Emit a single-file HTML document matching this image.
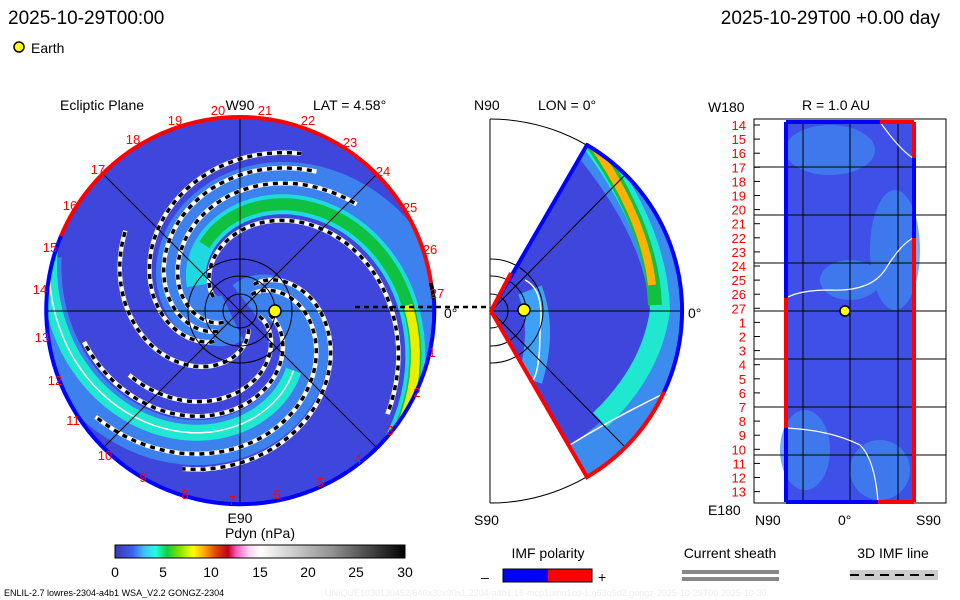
<!DOCTYPE html>
<html><head><meta charset="utf-8"><style>
body{margin:0;background:#fff;width:960px;height:600px;overflow:hidden;font-family:"Liberation Sans",sans-serif}
svg{display:block}
text{font-family:"Liberation Sans",sans-serif}
</style></head><body>
<svg id="s" width="960" height="600" viewBox="0 0 960 600" xmlns="http://www.w3.org/2000/svg">
<defs>
<linearGradient id="cb" x1="0" x2="1" y1="0" y2="0">
<stop offset="0" stop-color="#3838b0"/><stop offset="0.06" stop-color="#3c60f0"/><stop offset="0.1" stop-color="#40c0ff"/><stop offset="0.14" stop-color="#20ffe0"/><stop offset="0.18" stop-color="#10d040"/><stop offset="0.22" stop-color="#80e000"/><stop offset="0.27" stop-color="#ffff00"/><stop offset="0.31" stop-color="#ffa000"/><stop offset="0.35" stop-color="#e04000"/><stop offset="0.39" stop-color="#c00020"/><stop offset="0.42" stop-color="#ff60c0"/><stop offset="0.46" stop-color="#ffd0f0"/><stop offset="0.5" stop-color="#ffffff"/><stop offset="0.75" stop-color="#909090"/><stop offset="1" stop-color="#000"/>
</linearGradient>
<clipPath id="disk"><circle cx="240" cy="311" r="194"/></clipPath>
<clipPath id="wedge"><path d="M491,311 L587,145 A192,192 0 0 1 587,477 Z"/></clipPath>
<clipPath id="rhalf"><rect x="490" y="100" width="200" height="420"/></clipPath>
</defs>
<text x="8" y="24" font-size="19">2025-10-29T00:00</text>
<text x="940" y="24" font-size="19" text-anchor="end">2025-10-29T00 +0.00 day</text>
<circle cx="19" cy="47" r="5" fill="#ff0" stroke="#000" stroke-width="1.5"/>
<text x="31" y="53" font-size="14">Earth</text>

<text x="60" y="110" font-size="14">Ecliptic Plane</text>
<text x="240" y="110" font-size="14" text-anchor="middle">W90</text>
<text x="313" y="110" font-size="14">LAT = 4.58°</text>
<text x="474" y="110" font-size="14">N90</text>
<text x="538" y="110" font-size="14">LON = 0°</text>
<text x="708" y="112" font-size="14">W180</text>
<text x="802" y="110" font-size="14">R = 1.0 AU</text>

<circle cx="240" cy="311" r="194" fill="#3f46dc"/>
<g id="spirals" clip-path="url(#disk)"></g>
<g stroke="#000" stroke-width="1" fill="none">
<line x1="46" y1="311" x2="434" y2="311"/><line x1="240" y1="117" x2="240" y2="505"/>
<line x1="103" y1="174" x2="377" y2="448"/><line x1="103" y1="448" x2="377" y2="174"/>
<circle cx="240" cy="311" r="17"/><circle cx="240" cy="311" r="35"/><circle cx="240" cy="311" r="52"/>
</g>
<path d="M240,117 A194,194 0 0 0 61,236" stroke="#f00" stroke-width="4" fill="none"/>
<path d="M240,117 A194,194 0 0 1 431,283" stroke="#f00" stroke-width="4" fill="none"/>
<path d="M431,283 A194,194 0 0 1 434,300" stroke="#000" stroke-width="4" fill="none"/>
<path d="M434,300 A194,194 0 1 1 61,236" stroke="#00f" stroke-width="4" fill="none"/>
<circle cx="275" cy="311" r="6" fill="#ff0" stroke="#000" stroke-width="1.5"/>
<line x1="355" y1="307" x2="490" y2="307" stroke="#000" stroke-width="2.5" stroke-dasharray="5,4"/>
<text x="444" y="318" font-size="14">0°</text>
<text x="240" y="523" font-size="14" text-anchor="middle">E90</text>
<g fill="#f00" font-size="13" text-anchor="middle" id="lnum"></g>

<path d="M490,119 A192,192 0 0 1 490,503" stroke="#000" fill="none"/>
<line x1="490" y1="119" x2="490" y2="503" stroke="#000"/>
<g clip-path="url(#wedge)">
<path d="M491,311 L587,145 A192,192 0 0 1 587,477 Z" fill="#3f46dc"/>
<path d="M590,140 Q665,230 670,310 Q665,390 610,440 Q580,465 560,475" stroke="#3c8cf0" stroke-width="40" fill="none"/>
<path d="M590,140 Q658,230 660,310 Q652,370 600,420" stroke="#20e8d0" stroke-width="20" fill="none"/>
<path d="M592,143 Q652,228 655,305" stroke="#10c040" stroke-width="14" fill="none"/>
<path d="M594,146 Q645,220 652,285" stroke="#ffb000" stroke-width="8" fill="none"/>
<path d="M530,290 Q545,330 530,380" stroke="#40c8ff" stroke-width="25" fill="none" opacity="0.7"/>
<path d="M525,280 Q545,290 540,330 Q540,370 533,380" stroke="#fff" stroke-width="1.5" fill="none"/>
<path d="M570,445 Q610,420 665,393" stroke="#fff" stroke-width="1.5" fill="none"/>
</g>
<g stroke="#000" fill="none" clip-path="url(#rhalf)">
<line x1="491" y1="311" x2="682" y2="311"/><line x1="491" y1="311" x2="625" y2="175"/><line x1="491" y1="311" x2="625" y2="447"/>
<circle cx="491" cy="311" r="17"/><circle cx="491" cy="311" r="35"/><circle cx="491" cy="311" r="52"/>
</g>
<path d="M491,311 L587,145 A192,192 0 0 1 664,392" stroke="#00f" stroke-width="4" fill="none" stroke-linejoin="round"/>
<path d="M664,392 A192,192 0 0 1 587,477 L491,311 L511,273" stroke="#f00" stroke-width="4" fill="none"/>
<circle cx="524" cy="310" r="6" fill="#ff0" stroke="#000" stroke-width="1.5"/>
<text x="688" y="318" font-size="14">0°</text>
<text x="474" y="525" font-size="14">S90</text>

<rect x="754" y="119" width="192" height="384" fill="#fff" stroke="#000"/>
<rect x="786" y="122" width="128" height="380" fill="#3f50e8"/>
<g opacity="0.7" fill="#3f8af0">
<ellipse cx="830" cy="150" rx="45" ry="25"/><ellipse cx="895" cy="250" rx="25" ry="60"/><ellipse cx="805" cy="450" rx="25" ry="40"/><ellipse cx="880" cy="470" rx="30" ry="30"/><ellipse cx="850" cy="280" rx="30" ry="20"/>
</g>
<g stroke="#000">
<line x1="754" y1="167" x2="946" y2="167"/><line x1="754" y1="215" x2="946" y2="215"/><line x1="754" y1="263" x2="946" y2="263"/><line x1="754" y1="311" x2="946" y2="311"/><line x1="754" y1="359" x2="946" y2="359"/><line x1="754" y1="407" x2="946" y2="407"/><line x1="754" y1="455" x2="946" y2="455"/>
<line x1="803" y1="122" x2="803" y2="502"/><line x1="850" y1="122" x2="850" y2="502"/><line x1="898" y1="122" x2="898" y2="502"/>
</g>
<path d="M786,298 Q800,290 830,290 Q870,292 885,270 Q900,245 913,238" stroke="#fff" stroke-width="1.2" fill="none"/>
<path d="M786,428 Q830,430 860,445 Q875,460 878,502" stroke="#fff" stroke-width="1.2" fill="none"/>
<path d="M880,122 Q900,150 913,158" stroke="#fff" stroke-width="1.2" fill="none"/>
<line x1="786" y1="122" x2="786" y2="298" stroke="#00f" stroke-width="4"/>
<line x1="786" y1="298" x2="786" y2="428" stroke="#f00" stroke-width="4"/>
<line x1="786" y1="428" x2="786" y2="502" stroke="#00f" stroke-width="4"/>
<line x1="786" y1="122" x2="880" y2="122" stroke="#00f" stroke-width="4"/>
<line x1="880" y1="122" x2="914" y2="122" stroke="#f00" stroke-width="4"/>
<line x1="914" y1="122" x2="914" y2="158" stroke="#f00" stroke-width="4"/>
<line x1="914" y1="158" x2="914" y2="238" stroke="#00f" stroke-width="4"/>
<line x1="914" y1="238" x2="914" y2="502" stroke="#f00" stroke-width="4"/>
<line x1="786" y1="502" x2="878" y2="502" stroke="#00f" stroke-width="4"/>
<line x1="878" y1="502" x2="914" y2="502" stroke="#f00" stroke-width="4"/>
<circle cx="845" cy="311" r="5" fill="#ff0" stroke="#000" stroke-width="1.5"/>
<g fill="#f00" font-size="13" text-anchor="end" id="rnum"></g>
<text x="708" y="515" font-size="14">E180</text>
<text x="755" y="525" font-size="14">N90</text>
<text x="838" y="525" font-size="14">0°</text>
<text x="916" y="525" font-size="14">S90</text>

<text x="260" y="538" font-size="14" text-anchor="middle">Pdyn (nPa)</text>
<rect x="115" y="545" width="290" height="13" fill="url(#cb)" stroke="#000"/>
<g font-size="14" text-anchor="middle">
<text x="115" y="577">0</text><text x="163" y="577">5</text><text x="211" y="577">10</text><text x="260" y="577">15</text><text x="308" y="577">20</text><text x="356" y="577">25</text><text x="405" y="577">30</text>
</g>
<text x="548" y="558" font-size="14" text-anchor="middle">IMF polarity</text>
<text x="481" y="582" font-size="14">–</text>
<rect x="503" y="569" width="45" height="13" fill="#00f"/><rect x="548" y="569" width="44" height="13" fill="#f00"/>
<rect x="503" y="569" width="89" height="13" fill="none" stroke="#000"/>
<text x="598" y="582" font-size="14">+</text>
<text x="730" y="558" font-size="14" text-anchor="middle">Current sheath</text>
<rect x="682" y="570" width="97" height="4" fill="#888"/><rect x="682" y="577" width="97" height="4" fill="#888"/>
<text x="893" y="558" font-size="14" text-anchor="middle">3D IMF line</text>
<rect x="850" y="570" width="88" height="10" fill="#ccc"/>
<line x1="850" y1="575" x2="938" y2="575" stroke="#000" stroke-width="2" stroke-dasharray="9,6"/>
<text x="4" y="596" font-size="9">ENLIL-2.7 lowres-2304-a4b1 WSA_V2.2 GONGZ-2304</text>
<text x="325" y="596" font-size="9" fill="#eee">UNIQUE1030130452/640x30x90x1.2304-a4b1.16-mcp1umn1cd-1.g53q5d2.gongz-2025-10-29T00   2025-10-30</text>
</svg>
<script>
var NS="http://www.w3.org/2000/svg";var K=1.25;
function sp(g,phi0,r0,r1,attrs){
  var d="";for(var r=r0;r<=r1;r+=3){var a=(phi0+K*r)*Math.PI/180;var x=240+r*Math.cos(a),y=311+r*Math.sin(a);d+=(d?"L":"M")+x.toFixed(1)+","+y.toFixed(1);}
  var p=document.createElementNS(NS,"path");p.setAttribute("d",d);p.setAttribute("fill","none");
  for(var k2 in attrs)p.setAttribute(k2,attrs[k2]);g.appendChild(p);}
var g=document.getElementById("spirals");
sp(g,125,10,210,{stroke:"#3c8cf0","stroke-width":50,opacity:0.85});
sp(g,-65,10,210,{stroke:"#3c8cf0","stroke-width":45,opacity:0.85});
sp(g,148,50,205,{stroke:"#20d8e0","stroke-width":20});
sp(g,148,75,205,{stroke:"#10c040","stroke-width":12});
sp(g,148,168,205,{stroke:"#e8f000","stroke-width":9});
sp(g,-52,80,205,{stroke:"#20e8d0","stroke-width":16});
sp(g,-52,80,205,{stroke:"#fff","stroke-width":1.5});
var dash=[[120,20,160],[100,30,160],[80,40,170],[170,30,180],[-80,20,180],[-100,30,170],[-30,30,160],[-10,20,130],[40,20,140]];
dash.forEach(function(s){sp(g,s[0],s[1],s[2],{stroke:"#fff","stroke-width":4.5});sp(g,s[0],s[1],s[2],{stroke:"#000","stroke-width":3.5,"stroke-dasharray":"5,5"});});
var L=[["20",218,115],["21",265,115],["22",308,125],["23",350,147],["24",383,176],["25",410,212],["26",430,254],["27",437,298],["1",432,357],["2",417,397],["3",390,435],["4",358,464],["5",320,487],["6",277,499],["7",232,505],["8",185,499],["9",143,482],["10",105,460],["11",73,425],["12",55,385],["13",42,342],["14",40,294],["15",50,252],["16",70,210],["17",98,174],["18",133,144],["19",175,125]];
var ln=document.getElementById("lnum");L.forEach(function(t){var e=document.createElementNS(NS,"text");e.setAttribute("x",t[1]);e.setAttribute("y",t[2]);e.textContent=t[0];ln.appendChild(e);});
var rn=document.getElementById("rnum");var labs=[];for(var i=14;i<=27;i++)labs.push(i);for(var i=1;i<=13;i++)labs.push(i);
labs.forEach(function(v,i){var e=document.createElementNS(NS,"text");e.setAttribute("x",746);e.setAttribute("y",130+i*14.1);e.textContent=v;rn.appendChild(e);
var t=document.createElementNS(NS,"line");t.setAttribute("x1",754);t.setAttribute("x2",760);t.setAttribute("y1",125+i*14.1);t.setAttribute("y2",125+i*14.1);t.setAttribute("stroke","#000");rn.appendChild(t);});
</script>
</body></html>
